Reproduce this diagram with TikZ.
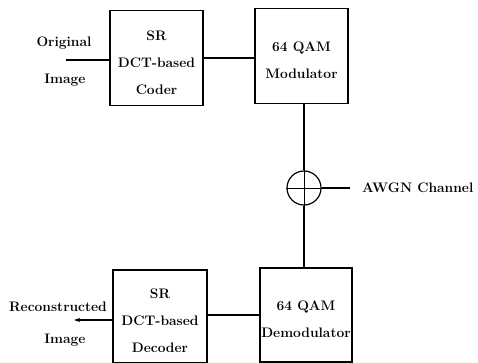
\documentclass[tikz,border=0pt]{standalone}
\usetikzlibrary{arrows.meta}
\begin{document}
\begin{tikzpicture}[x=1pt,y=-1pt,
  txt/.style={font=\fontsize{13.8}{27}\selectfont\bfseries, inner sep=0pt, align=center},
  blk/.style={draw, line width=1.3pt, txt, minimum width=93pt, minimum height=95pt},
  sumnode/.style={draw, circle, line width=1.2pt, minimum size=34pt, inner sep=0pt},
  wire/.style={line width=1.3pt}]
\useasboundingbox (0,0) rectangle (478,363);
\newcommand{\dwn}{\rule{0pt}{19pt}}
\node[blk] (coder) at (156.5,58) {\dwn SR\\DCT-based\\Coder};
\node[blk] (mod) at (301.5,56) {\dwn 64 QAM\\Modulator};
\node[sumnode] (sum) at (304,188) {};
\draw[line width=1pt] (sum.north) -- (sum.south) (sum.west) -- (sum.east);
\node[blk, minimum width=92pt, minimum height=94pt] (demod) at (306,315) {\dwn 64 QAM\\Demodulator};
\node[blk, minimum width=94pt, minimum height=93pt] (dec) at (160,316.5) {\dwn SR\\DCT-based\\Decoder};
\node[txt] (orig) at (64,43) {Original};
\node[txt] (img1) at (65,80) {Image};
\node[txt] (rec) at (58,307) {Reconstructed};
\node[txt] (img2) at (65,340) {Image};
\node[txt, anchor=west] (awgn) at (362,188) {AWGN Channel};
\coordinate (in) at (66,60);
\coordinate (nz) at (350,188);
\coordinate (out) at (74,320);
\draw[wire] (in) -- (in -| coder.west);
\draw[wire] (coder.east) -- (coder.east -| mod.west);
\draw[wire] (sum.north |- mod.south) -- (sum.north);
\draw[wire] (nz) -- (sum.east);
\draw[wire] (sum.south) -- (sum.south |- demod.north);
\draw[wire] (demod.west) -- (demod.west -| dec.east);
\draw[wire, -{Stealth[length=6pt,width=4pt]}] (out -| dec.west) -- (out);
\end{tikzpicture}
\end{document}
